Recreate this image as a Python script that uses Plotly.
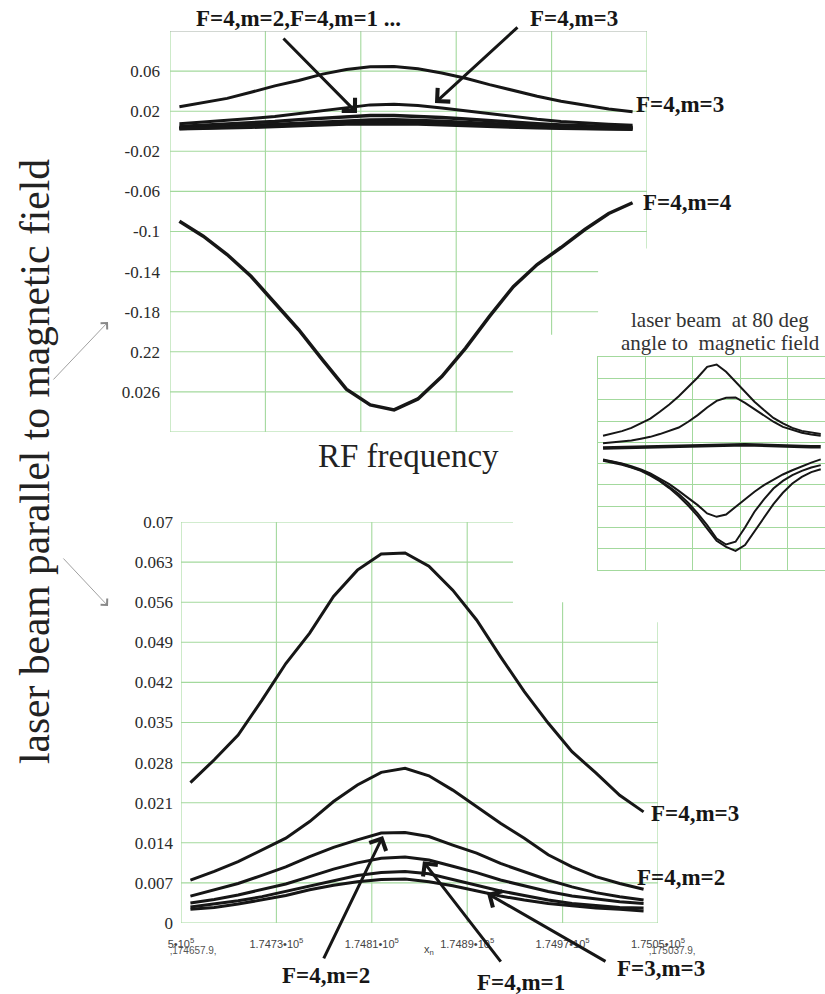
import plotly.graph_objects as go

W, H = 825, 994

# RF frequency grid (Hz) used by the upper and lower panels
freq = [174657.9, 174677.9, 174697.9, 174717.9, 174737.9, 174757.9, 174777.9,
        174797.9, 174817.9, 174837.9, 174857.9, 174877.9, 174897.9, 174917.9,
        174937.9, 174957.9, 174977.9, 174997.9, 175017.9, 175037.9]

# Resonance signals, laser beam parallel to the magnetic field
sig_a = [0.0245, 0.0285, 0.0328, 0.0389, 0.0453, 0.0506, 0.0570, 0.0616, 0.0644, 0.0646,
         0.0623, 0.0581, 0.0529, 0.0465, 0.0404, 0.0349, 0.0299, 0.0262, 0.0223, 0.0194]
sig_b = [0.0075, 0.0090, 0.0107, 0.0127, 0.0148, 0.0177, 0.0212, 0.0241, 0.0263, 0.0270,
         0.0257, 0.0232, 0.0203, 0.0174, 0.0148, 0.0119, 0.0098, 0.0081, 0.0069, 0.0059]
sig_c = [0.0047, 0.0058, 0.0069, 0.0083, 0.0098, 0.0116, 0.0132, 0.0145, 0.0157, 0.0158,
         0.0151, 0.0136, 0.0122, 0.0104, 0.0090, 0.0075, 0.0063, 0.0053, 0.0046, 0.0040]
sig_d = [0.0035, 0.0041, 0.0049, 0.0058, 0.0068, 0.0081, 0.0094, 0.0105, 0.0113, 0.0115,
         0.0110, 0.0099, 0.0088, 0.0075, 0.0065, 0.0055, 0.0047, 0.0042, 0.0037, 0.0034]
sig_e = [0.0028, 0.0033, 0.0039, 0.0046, 0.0055, 0.0065, 0.0074, 0.0083, 0.0088, 0.0090,
         0.0086, 0.0076, 0.0066, 0.0056, 0.0048, 0.0040, 0.0034, 0.0030, 0.0027, 0.0026]
sig_f = [0.0024, 0.0027, 0.0033, 0.0040, 0.0048, 0.0058, 0.0066, 0.0072, 0.0076, 0.0077,
         0.0072, 0.0065, 0.0056, 0.0047, 0.0040, 0.0034, 0.0030, 0.0026, 0.0024, 0.0021]
sig_m4 = [-0.0897, -0.1047, -0.1230, -0.1447, -0.1713, -0.1980, -0.2280, -0.2573, -0.2730, -0.2780,
          -0.2670, -0.2447, -0.2163, -0.1847, -0.1550, -0.1330, -0.1160, -0.0980, -0.0820, -0.0713]

# Inset: laser beam at 80 deg to the field (arbitrary units)
ins_x = [0.1, 0.3, 0.5, 0.7, 0.9, 1.1, 1.3, 1.5, 1.7, 1.9, 2.1, 2.3,
         2.5, 2.7, 2.9, 3.1, 3.3, 3.5, 3.7, 3.9, 4.1, 4.3, 4.5, 4.7]
ins_1 = [1.31, 1.42, 1.53, 1.68, 1.89, 2.12, 2.44, 2.78, 3.17, 3.61, 4.05, 4.55,
         4.66, 4.32, 3.85, 3.38, 2.91, 2.52, 2.15, 1.89, 1.68, 1.54, 1.45, 1.39]
ins_2 = [0.96, 1.00, 1.04, 1.09, 1.17, 1.26, 1.39, 1.53, 1.70, 1.97, 2.28, 2.64,
         2.95, 3.10, 3.11, 2.86, 2.55, 2.25, 1.97, 1.73, 1.58, 1.45, 1.37, 1.31]
ins_0 = [0.74, 0.75, 0.76, 0.77, 0.78, 0.79, 0.80, 0.81, 0.83, 0.85, 0.86, 0.88,
         0.89, 0.90, 0.90, 0.89, 0.88, 0.86, 0.85, 0.83, 0.82, 0.81, 0.80, 0.79]
ins_3 = [0.20, 0.12, 0.01, -0.12, -0.27, -0.46, -0.70, -0.96, -1.28, -1.61, -1.95, -2.34,
         -2.50, -2.39, -2.03, -1.68, -1.32, -1.01, -0.74, -0.51, -0.31, -0.12, 0.05, 0.20]
ins_4 = [0.16, 0.09, -0.02, -0.15, -0.31, -0.51, -0.78, -1.09, -1.43, -1.84, -2.34, -2.89,
         -3.52, -3.80, -3.67, -3.00, -2.26, -1.68, -1.17, -0.81, -0.54, -0.34, -0.18, -0.07]
ins_5 = [0.13, 0.05, -0.05, -0.18, -0.34, -0.56, -0.82, -1.15, -1.53, -1.97, -2.47, -3.05,
         -3.63, -3.91, -4.10, -3.83, -3.20, -2.55, -1.90, -1.37, -0.93, -0.62, -0.40, -0.26]

# Axis ticks
top_ticks = [0.06, 0.02, -0.02, -0.06, -0.1, -0.14, -0.18, -0.22, -0.26]
top_ticktext = ["0.06", "0.02", "-0.02", "-0.06", "-0.1", "-0.14", "-0.18", "0.22", "0.026"]
bot_ticks = [0, 0.007, 0.014, 0.021, 0.028, 0.035, 0.042, 0.049, 0.056, 0.063, 0.07]
bot_ticktext = ["0", "0.007", "0.014", "0.021", "0.028", "0.035", "0.042", "0.049", "0.056", "0.063", "0.07"]
freq_ticks = [174650, 174730, 174810, 174890, 174970, 175050]
freq_ticktext = ["5\u202210<sup>5</sup>", "1.7473\u202210<sup>5</sup>", "1.7481\u202210<sup>5</sup>",
                 "1.7489\u202210<sup>5</sup>", "1.7497\u202210<sup>5</sup>", "1.7505\u202210<sup>5</sup>"]

INK = "#161616"
GRID = "#a3d99d"
FRAME_TOP = "#a6b0a6"
SERIF = "Liberation Serif, Times New Roman, serif"
SANS = "Liberation Sans, Arial, sans-serif"


def paper(px, py):
    return px / W, 1 - py / H


fig = go.Figure()

# upper panel
for s, w in [(sig_a, 3), (sig_b, 3), (sig_c, 3.5), (sig_d, 3.5), (sig_e, 3.5), (sig_f, 3.5), (sig_m4, 3.5)]:
    fig.add_trace(go.Scatter(x=freq, y=s, mode="lines", line=dict(color=INK, width=w),
                             xaxis="x", yaxis="y", showlegend=False, hoverinfo="skip"))
# lower panel
for s in [sig_a, sig_b, sig_c, sig_d, sig_e, sig_f]:
    fig.add_trace(go.Scatter(x=freq, y=s, mode="lines", line=dict(color=INK, width=3),
                             xaxis="x2", yaxis="y2", showlegend=False, hoverinfo="skip"))
# inset
for s, w in [(ins_1, 2), (ins_2, 2), (ins_0, 3.5), (ins_3, 2), (ins_4, 2), (ins_5, 2)]:
    fig.add_trace(go.Scatter(x=ins_x, y=s, mode="lines", line=dict(color=INK, width=w),
                             xaxis="x3", yaxis="y3", showlegend=False, hoverinfo="skip"))

shapes = []


def gline(xr, yr, x0, y0, x1, y1, color=GRID, width=1.1):
    shapes.append(dict(type="line", xref=xr, yref=yr, x0=x0, y0=y0, x1=x1, y1=y1,
                       line=dict(color=color, width=width), layer="below"))


# upper panel grid (right part hidden behind the inset area)
top_vgrid_end = {174730: -0.3, 174810: -0.3, 174890: -0.3, 174970: -0.203}
for xv, yend in top_vgrid_end.items():
    gline("x", "y", xv, 0.1, xv, yend)
top_hgrid_end = {0.06: 175050, 0.02: 175050, -0.02: 175050, -0.06: 175050, -0.1: 175050,
                 -0.14: 175009, -0.18: 175009, -0.22: 174937.6, -0.26: 174937.6}
for yv, xend in top_hgrid_end.items():
    gline("x", "y", 174650, yv, xend, yv)
gline("x", "y", 174650, -0.3, 174650, 0.1)                 # left frame
gline("x", "y", 174650, -0.3, 174937.6, -0.3)              # bottom frame
gline("x", "y", 175050, 0.1, 175050, -0.117)               # right frame
gline("x", "y", 174650, 0.1, 175050, 0.1, color=FRAME_TOP)  # top frame

# lower panel grid
bot_vgrid_end = {174730: 0.07, 174810: 0.07, 174890: 0.07, 174970: 0.056}
for xv, yend in bot_vgrid_end.items():
    gline("x2", "y2", xv, 0, xv, yend)
for yv in bot_ticks[1:]:
    xend = 174928.4 if yv >= 0.056 else 175050
    gline("x2", "y2", 174650, yv, xend, yv)
gline("x2", "y2", 174650, 0, 174650, 0.07)
gline("x2", "y2", 174650, 0, 175050, 0)
gline("x2", "y2", 175050, 0, 175050, 0.0525)

ann = []


def text_at(text, px, py, size, color, family=SERIF, xanchor="center", **kw):
    x, y = paper(px, py)
    ann.append(dict(text=text, x=x, y=y, xref="paper", yref="paper",
                    xanchor=xanchor, yanchor="middle", showarrow=False,
                    font=dict(family=family, size=size, color=color), **kw))


def label(text, px, py, xanchor="center"):
    text_at("<b>%s</b>" % text, px, py, 23, INK, xanchor=xanchor)


def pointer(xr, yr, x, y, ax, ay, color=INK, width=3, size=1.2):
    ann.append(dict(text="", x=x, y=y, xref=xr, yref=yr, ax=ax, ay=ay, showarrow=True,
                    arrowhead=4, arrowsize=size, arrowwidth=width, arrowcolor=color, standoff=0))


# upper panel labels
label("F=4,m=2,F=4,m=1 ...", 298, 19)
label("F=4,m=3", 574, 19)
label("F=4,m=3", 634, 104, xanchor="left")
label("F=4,m=4", 641, 203, xanchor="left")
pointer("x", "y", 174806.8, 0.0182, -75, -76)
pointer("x", "y", 174872.2, 0.0282, 84, -77)

# lower panel labels
label("F=4,m=3", 649, 813, xanchor="left")
label("F=4,m=2", 635, 877, xanchor="left")
label("F=4,m=2", 326, 975)
label("F=4,m=1", 521, 982)
label("F=3,m=3", 661, 968)
pointer("x2", "y2", 174819.4, 0.0152, -60, 124)
pointer("x2", "y2", 174852.9, 0.0108, 79, 102)
pointer("x2", "y2", 174906.6, 0.0052, 120, 69)

# free text
text_at("laser beam parallel to magnetic field", 35, 462, 41.5, "#222222", textangle=-90)
text_at("RF frequency", 408, 456, 33, "#222222")
text_at("laser beam\u00a0\u00a0at 80 deg", 720, 320, 21, "#333333")
text_at("angle to\u00a0\u00a0magnetic field", 720, 343, 21, "#333333")
text_at("\u201a174657.9\u201a", 193, 950, 10, "#555555", family=SANS)
text_at("\u201a175037.9\u201a", 672, 950, 10, "#555555", family=SANS)
text_at("x<sub>n</sub>", 429, 950, 11, "#444444", family=SANS)

# thin pointers from the side caption to both panels
for tail, head in [((52, 381), (108, 322)), ((62, 557), (108, 606))]:
    hx, hy = paper(*head)
    ann.append(dict(text="", x=hx, y=hy, xref="paper", yref="paper",
                    ax=tail[0] - head[0], ay=tail[1] - head[1], showarrow=True,
                    arrowhead=4, arrowsize=2.2, arrowwidth=0.8, arrowcolor="#888888", standoff=0))

axis_common = dict(showgrid=False, zeroline=False, showline=False, ticks="", automargin=False)
inset_axis = dict(showgrid=True, gridcolor=GRID, gridwidth=1.1, zeroline=False,
                  showline=True, linecolor=GRID, linewidth=1.2, mirror=True,
                  showticklabels=False, ticks="", automargin=False, tick0=0, dtick=1)

fig.update_layout(
    width=W, height=H, autosize=False,
    margin=dict(l=0, r=0, t=0, b=0, pad=0, autoexpand=False),
    paper_bgcolor="white", plot_bgcolor="rgba(0,0,0,0)",
    showlegend=False,
    xaxis=dict(domain=[170 / W, 647 / W], range=[174650, 175050], showticklabels=False,
               anchor="y", **axis_common),
    yaxis=dict(domain=[1 - 432 / H, 1 - 31 / H], range=[-0.3, 0.1], anchor="x",
               tickvals=top_ticks, ticktext=top_ticktext, ticklabelstandoff=9,
               tickfont=dict(family=SERIF, size=17, color="#2a2a2a"), **axis_common),
    xaxis2=dict(domain=[181 / W, 658 / W], range=[174650, 175050], anchor="y2",
                tickvals=freq_ticks, ticktext=freq_ticktext, ticklabelstandoff=13,
                tickfont=dict(family=SANS, size=11, color="#444444"), **axis_common),
    yaxis2=dict(domain=[1 - 923 / H, 1 - 522 / H], range=[0, 0.07], anchor="x2",
                tickvals=bot_ticks, ticktext=bot_ticktext, ticklabelstandoff=7,
                tickfont=dict(family=SERIF, size=17, color="#2a2a2a"), **axis_common),
    xaxis3=dict(domain=[598.3 / W, 1.0], range=[0, 4.79], anchor="y3", **inset_axis),
    yaxis3=dict(domain=[1 - 570 / H, 1 - 357.3 / H], range=[-5, 5], anchor="x3", **inset_axis),
    shapes=shapes,
    annotations=ann,
)

fig.write_html("out.html")
